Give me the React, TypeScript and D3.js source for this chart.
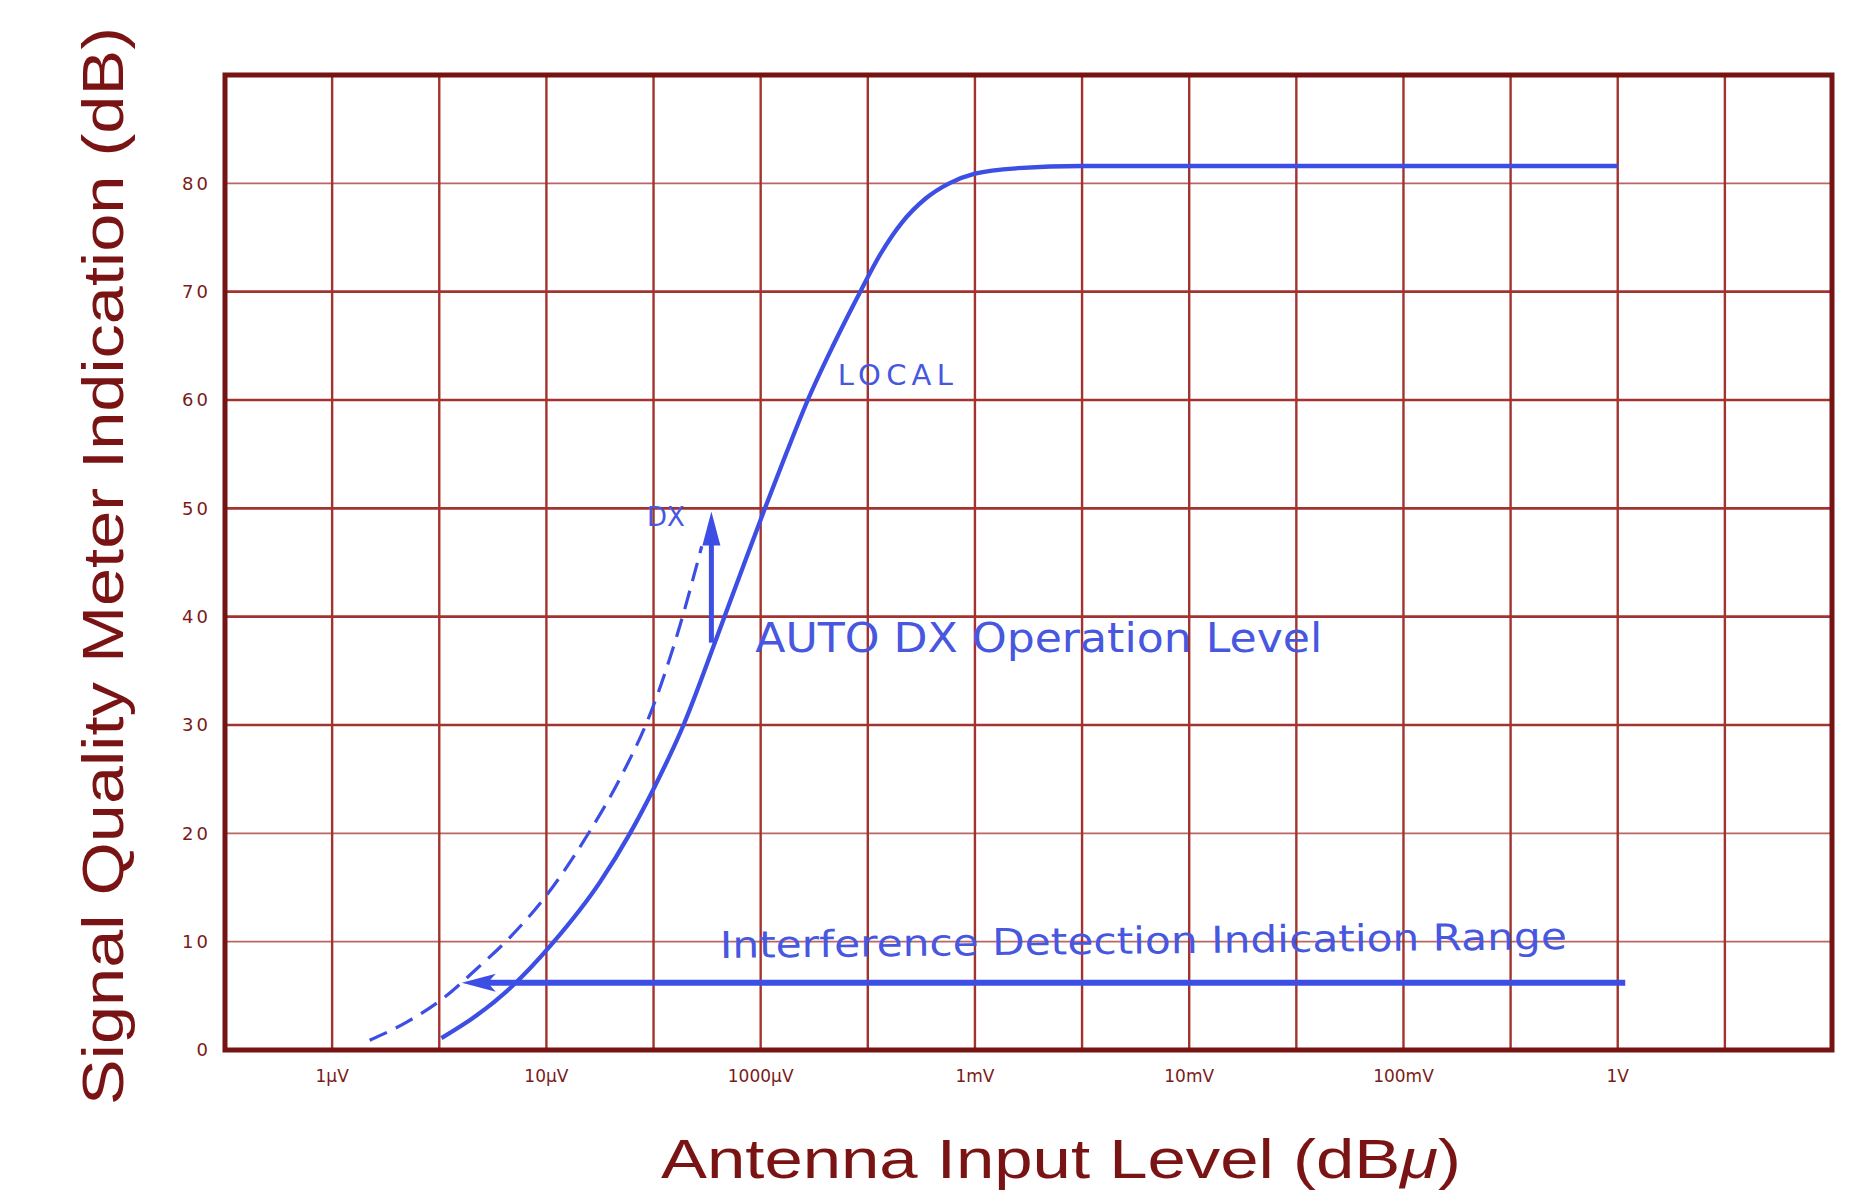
import React from "react";
import * as d3 from "d3";

// ---- data (x in dBμ, y in dB) ----
const X_TICKS = [0, 20, 40, 60, 80, 100, 120];
const X_TICK_LABELS = ["1μV", "10μV", "1000μV", "1mV", "10mV", "100mV", "1V"];
const Y_TICKS = [0, 10, 20, 30, 40, 50, 60, 70, 80];
const X_GRID = [0, 10, 20, 30, 40, 50, 60, 70, 80, 90, 100, 110, 120, 130];
const Y_GRID = [10, 20, 30, 40, 50, 60, 70, 80];

const LOCAL_X = [10.2, 13.5, 16.6, 20.7, 25.0, 27.8, 30.0, 32.8, 35.8, 38.2, 40.4, 42.4, 44.4, 46.8, 49.3, 51.2, 53.2, 55.4, 57.6, 60.0, 64.0, 70, 120];
const LOCAL_Y = [1.1, 3.2, 5.7, 10, 15.5, 20, 24.1, 30, 37.8, 44.2, 50, 55.1, 60, 65.1, 70, 73.5, 76.4, 78.6, 80.0, 80.9, 81.4, 81.6, 81.6];

const DX_X = [3.5, 7.0, 10.4, 13.5, 16.6, 20.1, 23.8, 27.0, 29.8, 32.2, 34.5];
const DX_Y = [0.9, 2.6, 4.8, 7.5, 10.4, 14.4, 19.8, 25.3, 31.3, 38.3, 46.5];

const INTERFERENCE_X = [12.1, 120.7];
const INTERFERENCE_Y = 6.2;

const AUTO_DX_X = 35.4;
const AUTO_DX_Y = [37.6, 49.7];

const W = 1857;
const H = 1195;
const GRID = "#a3332f";
const BLUE = "#3c4ee4";
const BLUE_TEXT = "#4757e0";

export default function App() {
  const xs = d3.scaleLinear().domain([-10, 140]).range([225, 1832]);
  const ys = d3.scaleLinear().domain([0, 90]).range([1050, 75]);

  const line = d3
    .line<[number, number]>()
    .x((d) => xs(d[0]))
    .y((d) => ys(d[1]))
    .curve(d3.curveMonotoneX);

  const localPts = LOCAL_X.map((x, i) => [x, LOCAL_Y[i]] as [number, number]);
  const dxPts = DX_X.map((x, i) => [x, DX_Y[i]] as [number, number]);

  const iy = ys(INTERFERENCE_Y);
  const ix0 = xs(INTERFERENCE_X[0]);
  const ix1 = xs(INTERFERENCE_X[1]);

  const ax = xs(AUTO_DX_X);
  const ayBottom = ys(AUTO_DX_Y[0]);
  const ayTop = ys(AUTO_DX_Y[1]);

  const lightH = (v: number) => v === 80 || v === 20 || v === 10;

  return (
    <svg
      width={W}
      height={H}
      viewBox={`0 0 ${W} ${H}`}
      style={{ position: "absolute", left: 0, top: 0, background: "#fff" }}
    >
      <rect x={0} y={0} width={W} height={H} fill="#fff" />

      {/* grid */}
      {X_GRID.map((v) => (
        <line
          key={"vx" + v}
          x1={xs(v)}
          x2={xs(v)}
          y1={ys(90)}
          y2={ys(0)}
          stroke={GRID}
          strokeWidth={2.4}
        />
      ))}
      {Y_GRID.map((v) => (
        <line
          key={"hy" + v}
          x1={xs(-10)}
          x2={xs(140)}
          y1={ys(v)}
          y2={ys(v)}
          stroke={GRID}
          strokeWidth={lightH(v) ? 1.6 : 2.6}
          strokeOpacity={lightH(v) ? 0.75 : 1}
        />
      ))}

      {/* frame */}
      <rect
        x={xs(-10)}
        y={ys(90)}
        width={xs(140) - xs(-10)}
        height={ys(0) - ys(90)}
        fill="none"
        stroke="#761313"
        strokeWidth={5}
      />

      {/* y tick labels */}
      {Y_TICKS.map((v) => (
        <text
          key={"yt" + v}
          x={211}
          y={ys(v)}
          dy="0.36em"
          textAnchor="end"
          fontFamily="DejaVu Sans, sans-serif"
          fontSize={18}
          letterSpacing={3}
          fill="#7a1a1a"
        >
          {v}
        </text>
      ))}

      {/* x tick labels */}
      {X_TICKS.map((v, i) => (
        <text
          key={"xt" + v}
          x={xs(v)}
          y={1082}
          textAnchor="middle"
          fontFamily="DejaVu Sans, sans-serif"
          fontSize={17}
          fill="#7a1a1a"
        >
          {X_TICK_LABELS[i]}
        </text>
      ))}

      {/* axis titles */}
      <text
        x={1061}
        y={1178}
        textAnchor="middle"
        fontFamily="Liberation Sans, Arial, sans-serif"
        fontSize={56}
        fill="#7a1414"
        textLength={800}
        lengthAdjust="spacingAndGlyphs"
      >
        Antenna Input Level (dB<tspan fontStyle="italic">μ</tspan>)
      </text>
      <text
        transform="translate(123,566) rotate(-90)"
        textAnchor="middle"
        fontFamily="Liberation Sans, Arial, sans-serif"
        fontSize={58}
        fill="#7a1414"
        textLength={1078}
        lengthAdjust="spacingAndGlyphs"
      >
        Signal Quality Meter Indication (dB)
      </text>

      {/* DX dashed curve */}
      <path
        d={line(dxPts) || ""}
        fill="none"
        stroke={BLUE}
        strokeWidth={3.2}
        strokeDasharray="19 10"
      />

      {/* LOCAL curve */}
      <path d={line(localPts) || ""} fill="none" stroke={BLUE} strokeWidth={4.3} />

      {/* Interference range line with arrowhead */}
      <line x1={ix0 + 20} x2={ix1} y1={iy} y2={iy} stroke={BLUE} strokeWidth={6} />
      <polygon
        points={`${ix0},${iy} ${ix0 + 34},${iy - 9} ${ix0 + 26},${iy} ${ix0 + 34},${iy + 9}`}
        fill={BLUE}
      />

      {/* AUTO DX arrow */}
      <line x1={ax} x2={ax} y1={ayBottom} y2={ayTop + 26} stroke={BLUE} strokeWidth={5} />
      <polygon
        points={`${ax},${ayTop} ${ax - 9},${ayTop + 34} ${ax + 9},${ayTop + 34}`}
        fill={BLUE}
      />

      {/* annotations */}
      <text
        x={xs(29.4)}
        y={ys(48.4)}
        fontFamily="DejaVu Sans, sans-serif"
        fontSize={26}
        fill={BLUE_TEXT}
      >
        DX
      </text>
      <text
        x={xs(47.2)}
        y={ys(61.4)}
        fontFamily="DejaVu Sans, sans-serif"
        fontSize={29}
        fill={BLUE_TEXT}
        textLength={115}
        lengthAdjust="spacing"
      >
        LOCAL
      </text>
      <text
        x={xs(39.5)}
        y={ys(36.7)}
        fontFamily="DejaVu Sans, sans-serif"
        fontSize={41}
        fill={BLUE_TEXT}
        textLength={567}
        lengthAdjust="spacingAndGlyphs"
      >
        AUTO DX Operation Level
      </text>
      <text
        transform={`translate(${xs(36.2)},${ys(8.5)}) rotate(-0.6)`}
        fontFamily="DejaVu Sans, sans-serif"
        fontSize={37}
        fill={BLUE_TEXT}
        textLength={847}
        lengthAdjust="spacingAndGlyphs"
      >
        Interference Detection Indication Range
      </text>
    </svg>
  );
}
